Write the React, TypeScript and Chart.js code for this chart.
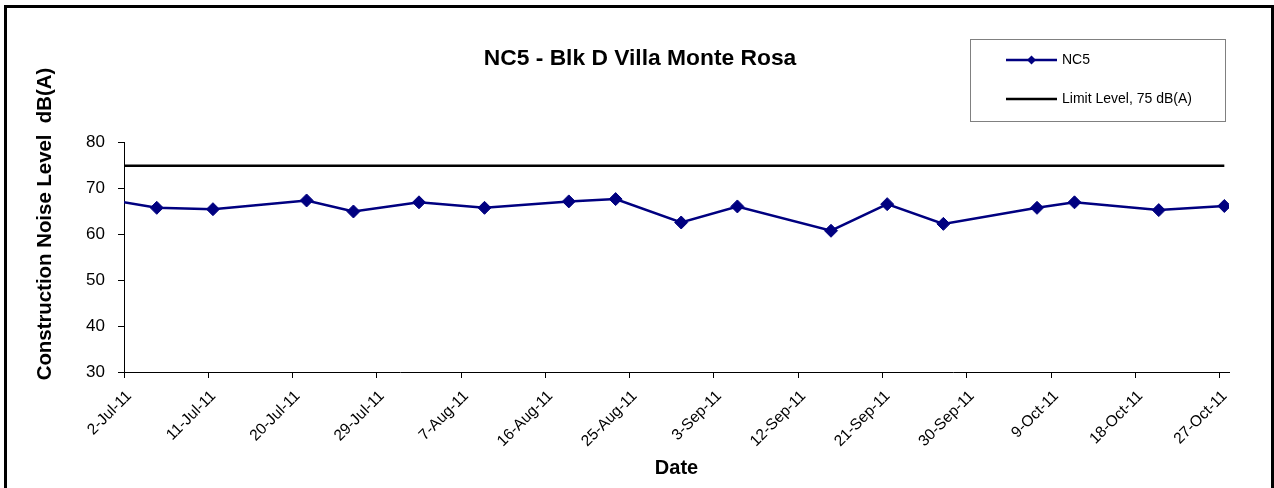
import React, { useEffect, useRef } from 'react';
import { Chart, registerables } from 'chart.js';

Chart.register(...registerables);

// ---- Data ----
const chartTitle = 'NC5 - Blk D Villa Monte Rosa';
const yAxisTitle = 'Construction Noise Level  dB(A)';
const xAxisTitle = 'Date';
const seriesLabels = ['NC5', 'Limit Level, 75 dB(A)'];

const measurementTimes = [
  '2011-07-01T12:00', '2011-07-05T12:00', '2011-07-11T12:00', '2011-07-21T12:00',
  '2011-07-26T12:00', '2011-08-02T12:00', '2011-08-09T12:00', '2011-08-18T12:00',
  '2011-08-23T12:00', '2011-08-30T12:00', '2011-09-05T12:00', '2011-09-15T12:00',
  '2011-09-21T12:00', '2011-09-27T12:00', '2011-10-07T12:00', '2011-10-11T12:00',
  '2011-10-20T12:00', '2011-10-27T12:00',
];
const nc5Values = [
  67.2, 65.8, 65.5, 67.4, 65.0, 67.0, 65.8, 67.2, 67.7,
  62.6, 66.1, 60.8, 66.6, 62.3, 65.8, 67.0, 65.3, 66.2,
];
const limitValues = [
  75, 75, 75, 75, 75, 75, 75, 75, 75,
  75, 75, 75, 75, 75, 75, 75, 75, 75,
];
const xTickLabels = [
  '2-Jul-11', '11-Jul-11', '20-Jul-11', '29-Jul-11', '7-Aug-11', '16-Aug-11', '25-Aug-11',
  '3-Sep-11', '12-Sep-11', '21-Sep-11', '30-Sep-11', '9-Oct-11', '18-Oct-11', '27-Oct-11',
];
const xAxisEnd = '28-Oct-11';
const yTickValues = [30, 40, 50, 60, 70, 80];

// ---- Helpers ----
const FONT = '"Liberation Sans", Arial, Helvetica, sans-serif';
const MONTHS: Record<string, number> = {
  Jan: 0, Feb: 1, Mar: 2, Apr: 3, May: 4, Jun: 5, Jul: 6, Aug: 7, Sep: 8, Oct: 9, Nov: 10, Dec: 11,
};
const DAY = 86400000;
const parseLabel = (s: string) => {
  const [d, m, y] = s.split('-');
  return Date.UTC(2000 + Number(y), MONTHS[m], Number(d));
};
const origin = parseLabel(xTickLabels[0]);
const toDay = (t: number) => (t - origin) / DAY;
const xMin = 0;
const xMax = toDay(parseLabel(xAxisEnd));
const tickDays = xTickLabels.map((l) => toDay(parseLabel(l)));
const xs = measurementTimes.map((t) => toDay(Date.parse(t + ':00Z')));

const NAVY = '#000080';

const overlayPlugin = {
  id: 'overlayTexts',
  afterDraw(chart: any) {
    const ctx = chart.ctx as CanvasRenderingContext2D;
    ctx.save();
    ctx.fillStyle = '#000';
    ctx.textAlign = 'center';
    ctx.textBaseline = 'middle';
    ctx.font = `bold 22.8px ${FONT}`;
    ctx.fillText(chartTitle, 640, 58.5);

    ctx.save();
    ctx.translate(45, 224);
    ctx.rotate(-Math.PI / 2);
    ctx.font = `bold 20.4px ${FONT}`;
    ctx.fillText(yAxisTitle, 0, 0);
    ctx.restore();

    // legend box
    ctx.strokeStyle = '#808080';
    ctx.lineWidth = 1;
    ctx.strokeRect(970.5, 39.5, 255, 82);

    const ds = chart.data.datasets;
    const rows = [60, 99];
    ds.forEach((d: any, i: number) => {
      const y = rows[i];
      ctx.strokeStyle = d.borderColor;
      ctx.lineWidth = d.borderWidth;
      ctx.beginPath();
      ctx.moveTo(1006, y);
      ctx.lineTo(1057, y);
      ctx.stroke();
      if (d.legendMarker) {
        ctx.fillStyle = d.pointBackgroundColor;
        ctx.beginPath();
        const r = 4.5;
        ctx.moveTo(1031.5, y - r);
        ctx.lineTo(1031.5 + r, y);
        ctx.lineTo(1031.5, y + r);
        ctx.lineTo(1031.5 - r, y);
        ctx.closePath();
        ctx.fill();
      }
      ctx.fillStyle = '#000';
      ctx.textAlign = 'left';
      ctx.font = `14px ${FONT}`;
      ctx.fillText(d.label, 1062, y + 0.5);
    });
    ctx.restore();
  },
};

export default function App() {
  const canvasRef = useRef<HTMLCanvasElement | null>(null);

  useEffect(() => {
    const canvas = canvasRef.current;
    if (!canvas) return;
    Chart.defaults.color = '#000';
    Chart.defaults.font.family = FONT;

    const chart = new Chart(canvas, {
      type: 'line',
      data: {
        datasets: [
          {
            label: seriesLabels[0],
            data: xs.map((x, i) => ({ x, y: nc5Values[i] })),
            borderColor: NAVY,
            backgroundColor: NAVY,
            pointBackgroundColor: NAVY,
            pointBorderColor: NAVY,
            borderWidth: 2.5,
            pointStyle: 'rectRot',
            pointRadius: (c: any) => (c.raw && c.raw.x < xMin ? 0 : 6.5),
            pointBorderWidth: 1,
            tension: 0,
            clip: 0,
            legendMarker: true,
          } as any,
          {
            label: seriesLabels[1],
            data: xs.map((x, i) => ({ x, y: limitValues[i] })),
            borderColor: '#000',
            backgroundColor: '#000',
            pointBackgroundColor: '#000',
            borderWidth: 2.5,
            pointRadius: 0,
            tension: 0,
            clip: 0,
          } as any,
        ],
      },
      options: {
        animation: false,
        responsive: false,
        events: [],
        layout: { padding: { top: 142.7, right: 45, bottom: 0, left: 0 } },
        plugins: {
          legend: { display: false },
          title: { display: false },
          tooltip: { enabled: false },
        },
        scales: {
          x: {
            type: 'linear',
            min: xMin,
            max: xMax,
            afterBuildTicks: (scale: any) => {
              scale.ticks = tickDays.map((v) => ({ value: v }));
            },
            afterFit: (scale: any) => {
              scale.height = 116;
            },
            ticks: {
              autoSkip: false,
              minRotation: 45,
              maxRotation: 45,
              padding: 9,
              labelOffset: 5,
              font: { size: 15.5, family: FONT },
              color: '#000',
              callback: (v: any) => {
                const idx = tickDays.indexOf(Number(v));
                return idx >= 0 ? xTickLabels[idx] : '';
              },
            },
            grid: {
              display: true,
              drawOnChartArea: false,
              drawTicks: true,
              tickLength: 6,
              color: '#000',
              lineWidth: 1,
            },
            border: { display: true, color: '#000', width: 1 },
            title: {
              display: true,
              text: xAxisTitle,
              color: '#000',
              font: { size: 20, weight: 'bold', family: FONT },
              padding: { top: 0, bottom: 8 },
            },
          },
          y: {
            type: 'linear',
            min: yTickValues[0],
            max: yTickValues[yTickValues.length - 1],
            afterBuildTicks: (scale: any) => {
              scale.ticks = yTickValues.map((v) => ({ value: v }));
            },
            afterFit: (scale: any) => {
              scale.width = 124;
            },
            ticks: {
              padding: 13,
              font: { size: 17, family: FONT },
              color: '#000',
            },
            grid: {
              display: true,
              drawOnChartArea: false,
              drawTicks: true,
              tickLength: 6,
              color: '#000',
              lineWidth: 1,
            },
            border: { display: true, color: '#000', width: 1 },
          },
        },
      } as any,
      plugins: [overlayPlugin],
    });

    return () => chart.destroy();
  }, []);

  return (
    <div style={{ position: 'fixed', left: 0, top: 0, width: 1274, height: 488, background: '#fff', overflow: 'hidden' }}>
      <canvas ref={canvasRef} width={1274} height={488} style={{ position: 'absolute', left: 0, top: 0, width: 1274, height: 488 }} />
      <div
        style={{
          position: 'absolute',
          left: 4,
          top: 5,
          width: 1270,
          height: 520,
          boxSizing: 'border-box',
          border: '3px solid #000',
          pointerEvents: 'none',
        }}
      />
    </div>
  );
}
